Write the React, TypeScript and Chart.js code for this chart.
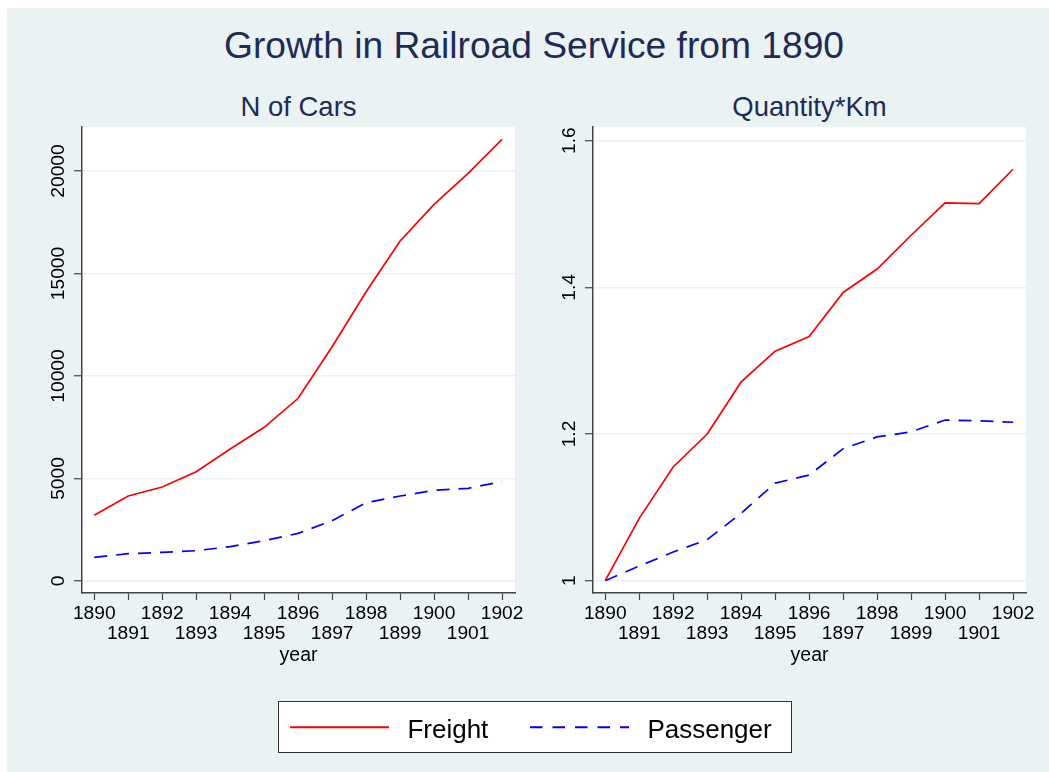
import React, { useEffect, useRef } from "react";
import { Chart, registerables } from "chart.js";

Chart.register(...registerables);

// ---- data ----
const years = [1890, 1891, 1892, 1893, 1894, 1895, 1896, 1897, 1898, 1899, 1900, 1901, 1902];
const freightCars = [3205, 4146, 4585, 5332, 6439, 7498, 8912, 11429, 14112, 16585, 18375, 19888, 21546];
const passengerCars = [1155, 1333, 1398, 1480, 1675, 1967, 2325, 2943, 3821, 4146, 4423, 4520, 4846];
const freightQkm = [1, 1.085, 1.155, 1.2, 1.271, 1.313, 1.333, 1.393, 1.425, 1.471, 1.515, 1.514, 1.561];
const passengerQkm = [1, 1.02, 1.039, 1.056, 1.092, 1.133, 1.144, 1.18, 1.196, 1.203, 1.219, 1.218, 1.216];
const carsTicks = [0, 5000, 10000, 15000, 20000];
const qkmTicks = [1, 1.2, 1.4, 1.6];
const seriesNames = ["Freight", "Passenger"];
const mainTitle = "Growth in Railroad Service from 1890";
const panelTitles = ["N of Cars", "Quantity*Km"];
const xAxisTitle = "year";

const FONT = '"Liberation Sans", Arial, Helvetica, sans-serif';
const NAVY = "#1e2b54";
const AXIS = "#444444";
const GRID = "#e9f1f3";
const BG = "#eaf2f3";

const plotBg = {
  id: "plotBg",
  beforeDraw(chart: any) {
    const { ctx, chartArea: a } = chart;
    ctx.save();
    ctx.fillStyle = "#ffffff";
    ctx.fillRect(a.left, a.top, a.right - a.left, a.bottom - a.top);
    ctx.restore();
  },
};

type PanelProps = {
  left: number;
  top: number;
  width: number;
  height: number;
  padRight: number;
  freight: number[];
  passenger: number[];
  yTicks: number[];
  yMin: number;
  yMax: number;
  yPad: number;
};

function Panel(p: PanelProps) {
  const ref = useRef<HTMLCanvasElement>(null);
  useEffect(() => {
    const chart = new Chart(ref.current as HTMLCanvasElement, {
      type: "line",
      data: {
        datasets: [
          {
            label: seriesNames[0],
            data: years.map((y, i) => ({ x: y, y: p.freight[i] })),
            borderColor: "#ff0000",
            borderWidth: 1.7,
            pointRadius: 0,
            tension: 0,
            fill: false,
          },
          {
            label: seriesNames[1],
            data: years.map((y, i) => ({ x: y, y: p.passenger[i] })),
            borderColor: "#0000ff",
            borderWidth: 1.7,
            borderDash: [13, 9],
            pointRadius: 0,
            tension: 0,
            fill: false,
          },
        ],
      },
      options: {
        animation: false,
        responsive: false,
        devicePixelRatio: 1,
        layout: { padding: { top: 20, right: p.padRight, left: 0, bottom: 0 } },
        plugins: {
          legend: { display: false },
          title: { display: false },
          tooltip: { enabled: false },
        },
        scales: {
          x: {
            type: "linear",
            bounds: "data",
            min: 1889.64,
            max: 1902.38,
            afterBuildTicks: (s: any) => {
              s.ticks = years.map((v) => ({ value: v }));
            },
            afterFit: (s: any) => {
              s.height = 72;
            },
            ticks: {
              autoSkip: false,
              includeBounds: false,
              minRotation: 0,
              maxRotation: 0,
              padding: 4,
              color: "#000000",
              font: { family: FONT, size: 19.2, lineHeight: 1.04 },
              callback: (v: any) => (Number(v) % 2 === 0 ? [String(v), ""] : ["", String(v)]),
            },
            grid: {
              drawOnChartArea: false,
              drawTicks: true,
              tickLength: 7,
              tickColor: AXIS,
              tickWidth: 1.2,
            },
            border: { display: true, color: AXIS, width: 1.5 },
            title: {
              display: true,
              text: xAxisTitle,
              color: "#000000",
              padding: 0,
              font: { family: FONT, size: 19.5, lineHeight: 1 },
            },
          },
          y: {
            type: "linear",
            bounds: "data",
            min: p.yMin,
            max: p.yMax,
            afterBuildTicks: (s: any) => {
              s.ticks = p.yTicks.map((v) => ({ value: v }));
            },
            afterFit: (s: any) => {
              s.width = 62;
            },
            ticks: {
              includeBounds: false,
              minRotation: 90,
              maxRotation: 90,
              crossAlign: "center",
              padding: p.yPad,
              color: "#000000",
              font: { family: FONT, size: 19.2 },
              callback: (v: any) => String(v),
            },
            grid: {
              drawOnChartArea: true,
              color: GRID,
              lineWidth: 1.5,
              drawTicks: true,
              tickLength: 8,
              tickColor: AXIS,
              tickWidth: 1.2,
            },
            border: { display: true, color: AXIS, width: 1.5 },
          },
        },
      } as any,
      plugins: [plotBg],
    });
    return () => chart.destroy();
  }, []);
  return (
    <canvas
      ref={ref}
      width={p.width}
      height={p.height}
      style={{ position: "absolute", left: p.left, top: p.top, width: p.width, height: p.height, display: "block" }}
    />
  );
}

function Text(props: { text: string; cx?: number; left?: number; baseline: number; size: number; color: string }) {
  const { text, cx, left, baseline, size, color } = props;
  const top = baseline - 0.8465 * size;
  const style: React.CSSProperties = {
    position: "absolute",
    top,
    fontFamily: FONT,
    fontSize: size,
    lineHeight: `${size}px`,
    color,
    whiteSpace: "nowrap",
  };
  if (cx !== undefined) {
    style.left = cx - 400;
    style.width = 800;
    style.textAlign = "center";
  } else {
    style.left = left;
  }
  return <div style={style}>{text}</div>;
}

export default function App() {
  useEffect(() => {
    document.body.style.overflow = "hidden";
  }, []);
  return (
    <div style={{ position: "absolute", left: 0, top: 0, width: 1049, height: 772, overflow: "hidden" }}>
      <div style={{ position: "absolute", left: 7, top: 8, width: 1042, height: 764, background: BG }} />
      <Text text={mainTitle} cx={534} baseline={58.3} size={37.2} color={NAVY} />
      <Text text={panelTitles[0]} cx={298.5} baseline={116.7} size={27.5} color={NAVY} />
      <Text text={panelTitles[1]} cx={809.5} baseline={116.7} size={27.5} color={NAVY} />
      <Panel
        left={20}
        top={107}
        width={525}
        height={558}
        padRight={30}
        freight={freightCars}
        passenger={passengerCars}
        yTicks={carsTicks}
        yMin={-585}
        yMax={22146}
        yPad={-11.7}
      />
      <Panel
        left={531}
        top={107}
        width={518}
        height={558}
        padRight={23}
        freight={freightQkm}
        passenger={passengerQkm}
        yTicks={qkmTicks}
        yMin={0.9832}
        yMax={1.6186}
        yPad={1.6}
      />
      <div
        style={{
          position: "absolute",
          left: 278,
          top: 701,
          width: 514,
          height: 52,
          boxSizing: "border-box",
          border: "1.5px solid #333333",
          background: "#ffffff",
        }}
      />
      <svg style={{ position: "absolute", left: 0, top: 0 }} width={1049} height={772}>
        <line x1={290} y1={727.2} x2={389} y2={727.2} stroke="#ff0000" strokeWidth={2} />
        <line x1={530} y1={727.2} x2={629} y2={727.2} stroke="#0000ff" strokeWidth={2} strokeDasharray="12.5 10" />
      </svg>
      <Text text={seriesNames[0]} left={407.4} baseline={738} size={26} color="#000000" />
      <Text text={seriesNames[1]} left={647.4} baseline={738} size={26} color="#000000" />
    </div>
  );
}
